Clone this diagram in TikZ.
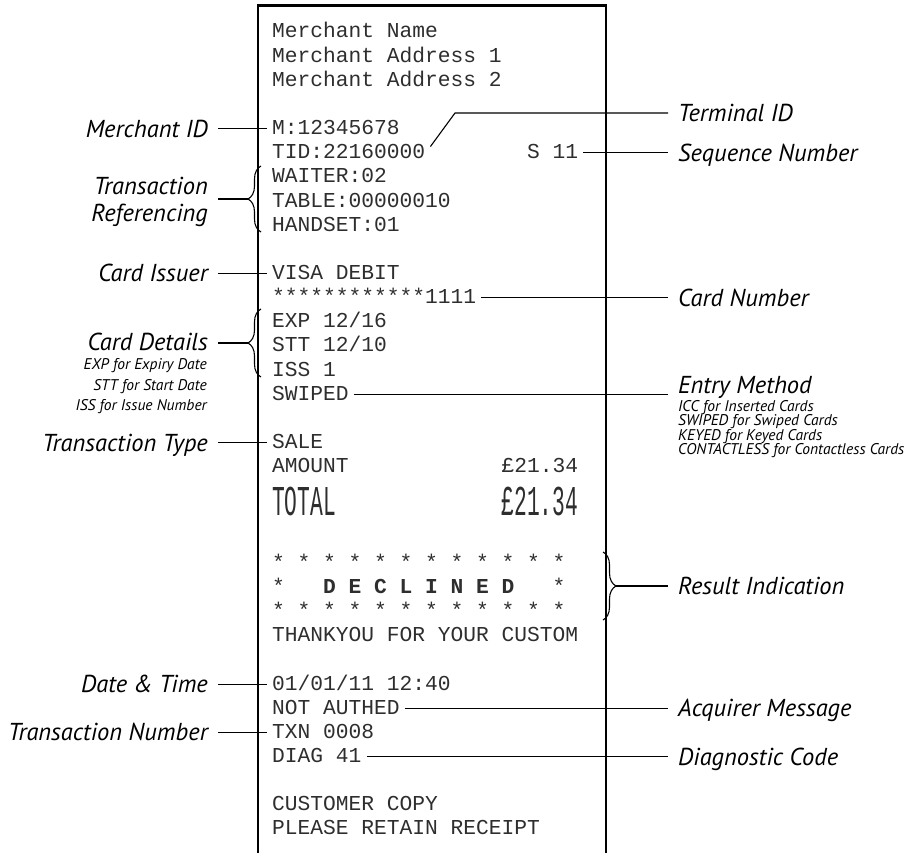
\documentclass[tikz,border=0pt]{standalone}
\usepackage{fontspec}
\setmainfont{PT Sans}
\newfontfamily\rcptfont{Liberation Mono}
\newfontfamily\lblfont{PT Sans}
\usetikzlibrary{decorations.pathreplacing}
\frenchspacing
\begin{document}
\begin{tikzpicture}[x=1pt,y=-1pt,
  mono/.style={font=\rcptfont\fontsize{21.25}{24}\selectfont, text=black!82, anchor=west, inner xsep=5pt, inner ysep=0pt, text height=12pt, text depth=0pt},
  lbl/.style={font=\lblfont\itshape\fontsize{24.5}{28}\selectfont, inner xsep=10pt, inner ysep=0pt, text height=17pt, text depth=0pt},
  llbl/.style={lbl, anchor=east},
  rlbl/.style={lbl, anchor=west},
  subl/.style={font=\lblfont\itshape\fontsize{15.5}{18}\selectfont, inner sep=0pt},
  conn/.style={line width=1.1pt},
  brc/.style={decorate, decoration={brace, amplitude=13pt}, line width=1.1pt},
  border/.style={line width=2.6pt}
]
\useasboundingbox (0,0) rectangle (919,853);
% receipt border
\draw[border] (258,853) -- (258,5.5) -- (606,5.5) -- (606,853);

% receipt text
\node[mono] (tMN)   at (267,32)     {Merchant~Name};
\node[mono] (tMA1)  at (267,56.15)  {Merchant~Address~1};
\node[mono] (tMA2)  at (267,80.3)   {Merchant~Address~2};
\node[mono] (tM)    at (267,128.6)  {M:12345678};
\node[mono] (tTID)  at (267,152.75) {TID:22160000};
\node[mono] (tSEQ)  at (522,152.75) {S~11};
\node[mono] (tWAIT) at (267,176.9)  {WAITER:02};
\node[mono] (tTAB)  at (267,201.05) {TABLE:00000010};
\node[mono] (tHS)   at (267,225.2)  {HANDSET:01};
\node[mono] (tVISA) at (267,273.5)  {VISA~DEBIT};
\node[mono] (tCARD) at (267,297.65) {************1111};
\node[mono] (tEXP)  at (267,321.8)  {EXP~12/16};
\node[mono] (tSTT)  at (267,345.95) {STT~12/10};
\node[mono] (tISS)  at (267,370.1)  {ISS~1};
\node[mono] (tSW)   at (267,394.25) {SWIPED};
\node[mono] (tSALE) at (267,442.55) {SALE};
\node[mono] (tAMT)  at (267,466.7)  {AMOUNT~~~~~~~~~~~~£21.34};
\node[font=\rcptfont\fontsize{21.25}{24}\selectfont, text=black!82, anchor=base west, inner xsep=5pt, inner ysep=0pt] (tTOT) at (267,515)
  {\scalebox{1}[2]{TOTAL~~~~~~~~~~~~~£21.34}};
\node[mono] (tST1)  at (267,563.3)  {*~*~*~*~*~*~*~*~*~*~*~*};
\node[mono] (tDEC)  at (267,587.45) {*~~~{\bfseries D~E~C~L~I~N~E~D}~~~*};
\node[mono] (tST2)  at (267,611.6)  {*~*~*~*~*~*~*~*~*~*~*~*};
\node[mono] (tTHX)  at (267,635.75) {THANKYOU~FOR~YOUR~CUSTOM};
\node[mono] (tDATE) at (267,684.05) {01/01/11~12:40};
\node[mono] (tNA)   at (267,708.2)  {NOT~AUTHED};
\node[mono] (tTXN)  at (267,732.35) {TXN~0008};
\node[mono] (tDIAG) at (267,756.5)  {DIAG~41};
\node[mono] (tCC)   at (267,804.8)  {CUSTOMER~COPY};
\node[mono] (tPR)   at (267,828.95) {PLEASE~RETAIN~RECEIPT};

% left labels
\node[llbl] (lMID) at (218,128.6)  {Merchant ID};
\node[font=\lblfont\itshape\fontsize{24.5}{27}\selectfont, inner xsep=10pt, inner ysep=0pt, align=right, anchor=north east] (lTR) at (218,177) {Transaction\\Referencing};
\node[llbl] (lCI)  at (218,273.5)  {Card Issuer};
\node[llbl] (lCD)  at (218,342)    {Card Details};
\node[subl, anchor=base east] (lCD1) at (207,370) {EXP for Expiry Date};
\node[subl, anchor=base east] (lCD2) at (207,390) {STT for Start Date};
\node[subl, anchor=base east] (lCD3) at (207,410) {ISS for Issue Number};
\node[llbl] (lTT)  at (218,442.55) {Transaction Type};
\node[llbl] (lDT)  at (218,684.05) {Date \& Time};
\node[llbl] (lTN)  at (218,732.35) {Transaction Number};

% right labels
\node[rlbl] (rTID) at (668,113)    {Terminal ID};
\node[rlbl] (rSEQ) at (668,152.75) {Sequence Number};
\node[rlbl] (rCN)  at (668,297.65) {Card Number};
\node[rlbl] (rEM)  at (668,384.5)  {Entry Method};
\node[subl, anchor=base west] (rEM1) at (678,411)   {ICC for Inserted Cards};
\node[subl, anchor=base west] (rEM2) at (678,425.5) {SWIPED for Swiped Cards};
\node[subl, anchor=base west] (rEM3) at (678,440)   {KEYED for Keyed Cards};
\node[subl, anchor=base west] (rEM4) at (678,454.5) {CONTACTLESS for Contactless Cards};
\node[rlbl] (rRI)  at (668,586)    {Result Indication};
\node[rlbl] (rAM)  at (668,708.2)  {Acquirer Message};
\node[rlbl] (rDC)  at (668,756.5)  {Diagnostic Code};

% braces
\draw[brc] (261,232) -- (261,166);
\coordinate (tipTR) at (248,199);
\draw[brc] (261,377) -- (261,309);
\coordinate (tipCD) at (248,343);
\draw[brc] (603,552) -- (603,620);
\coordinate (tipRI) at (616,586);
\coordinate (kTID) at (455,113);

% connectors left
\draw[conn] (lMID.east) -- (tM.west);
\draw[conn] (lTR.east |- tipTR) -- (tipTR);
\draw[conn] (lCI.east) -- (tVISA.west);
\draw[conn] (lCD.east |- tipCD) -- (tipCD);
\draw[conn] (lTT.east) -- (tSALE.west);
\draw[conn] (lDT.east) -- (tDATE.west);
\draw[conn] (lTN.east) -- (tTXN.west);

% connectors right
\draw[conn] (tTID.north east) -- (kTID) -- (rTID.west);
\draw[conn] (tSEQ.east) -- (rSEQ.west);
\draw[conn] (tCARD.east) -- (rCN.west);
\draw[conn] (tSW.east) -- (rEM.west |- tSW.east);
\draw[conn] (tipRI) -- (rRI.west);
\draw[conn] (tNA.east) -- (rAM.west);
\draw[conn] (tDIAG.east) -- (rDC.west);
\end{tikzpicture}
\end{document}
